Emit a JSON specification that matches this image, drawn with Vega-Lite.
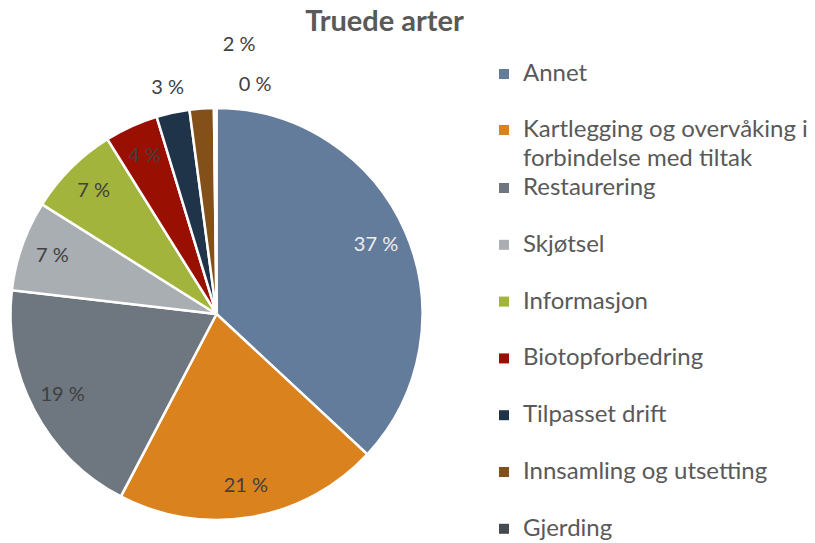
{
  "$schema": "https://vega.github.io/schema/vega-lite/v6.json",
  "autosize": "none",
  "padding": {"top": 85, "left": 0, "right": 382, "bottom": 0},
  "width": 433,
  "height": 458,
  "background": "white",
  "title": {"text": "Truede arter", "fontSize": 29, "font": "Lato", "fontWeight": "bold", "color": "#595959", "anchor": "middle", "frame": "group", "dx": 168, "offset": -3},
  "data": {"values": [
    {"cat": "Annet", "value": 37.0, "label": "37 %", "rank": 1},
    {"cat": "Kartlegging og overvåking i forbindelse med tiltak", "value": 20.8, "label": "21 %", "rank": 2},
    {"cat": "Restaurering", "value": 19.2, "label": "19 %", "rank": 3},
    {"cat": "Skjøtsel", "value": 7.1, "label": "7 %", "rank": 4},
    {"cat": "Informasjon", "value": 7.2, "label": "7 %", "rank": 5},
    {"cat": "Biotopforbedring", "value": 4.2, "label": "4 %", "rank": 6},
    {"cat": "Tilpasset drift", "value": 2.6, "label": "3 %", "rank": 7},
    {"cat": "Innsamling og utsetting", "value": 1.9, "label": "2 %", "rank": 8},
    {"cat": "Gjerding", "value": 0.2, "label": "0 %", "rank": 9}
  ]},
  "encoding": {
    "theta": {"field": "value", "type": "quantitative", "stack": true},
    "order": {"field": "rank", "type": "quantitative"}
  },
  "layer": [
    {
      "mark": {"type": "arc", "outerRadius": 206, "stroke": "white", "strokeWidth": 2.5},
      "encoding": {
        "fill": {
          "field": "cat", "type": "nominal",
          "scale": {
            "domain": ["Annet", "Kartlegging og overvåking i forbindelse med tiltak", "Restaurering", "Skjøtsel", "Informasjon", "Biotopforbedring", "Tilpasset drift", "Innsamling og utsetting", "Gjerding"],
            "range": ["#647c9c", "#D9821E", "#6E767F", "#A9AEB3", "#A2B43B", "#990F02", "#203449", "#84501A", "#464B50"]
          },
          "legend": {
            "values": ["Annet", "Kartlegging og overvåking i forbindelse med tiltak"],
            "orient": "none", "legendX": 492, "legendY": -23, "title": null,
            "symbolType": "square", "symbolSize": 100, "symbolStrokeWidth": 0,
            "labelFont": "Lato", "labelFontSize": 24, "labelColor": "#595959",
            "labelOffset": 7, "labelLimit": 400, "rowPadding": 32,
            "labelExpr": "datum.label == 'Kartlegging og overvåking i forbindelse med tiltak' ? ['Kartlegging og overvåking i', 'forbindelse med tiltak'] : datum.label"
          }
        }
      }
    },
    {
      "mark": {"type": "arc", "outerRadius": 206, "stroke": "white", "strokeWidth": 2.5},
      "encoding": {
        "color": {
          "field": "cat", "type": "nominal",
          "scale": {
            "domain": ["Annet", "Kartlegging og overvåking i forbindelse med tiltak", "Restaurering", "Skjøtsel", "Informasjon", "Biotopforbedring", "Tilpasset drift", "Innsamling og utsetting", "Gjerding"],
            "range": ["#647c9c", "#D9821E", "#6E767F", "#A9AEB3", "#A2B43B", "#990F02", "#203449", "#84501A", "#464B50"]
          },
          "legend": {
            "values": ["Restaurering", "Skjøtsel", "Informasjon", "Biotopforbedring", "Tilpasset drift", "Innsamling og utsetting", "Gjerding"],
            "orient": "none", "legendX": 492, "legendY": 91, "title": null,
            "symbolType": "square", "symbolSize": 100, "symbolStrokeWidth": 0,
            "labelFont": "Lato", "labelFontSize": 24, "labelColor": "#595959",
            "labelOffset": 7, "labelLimit": 400, "rowPadding": 32.8
          }
        }
      }
    },
    {
      "mark": {"type": "text", "radius": 174, "font": "Lato", "fontSize": 20},
      "encoding": {
        "text": {"condition": {"test": "datum.rank <= 6", "field": "label"}, "value": ""},
        "color": {"condition": {"test": "datum.rank == 1", "value": "#eeeeee"}, "value": "#404040"}
      }
    },
    {
      "mark": {"type": "text", "radius": 231, "font": "Lato", "fontSize": 20, "color": "#404040"},
      "encoding": {
        "text": {"condition": {"test": "datum.rank == 7", "field": "label"}, "value": ""}
      }
    },
    {
      "mark": {"type": "text", "radius": 270, "dx": 42, "font": "Lato", "fontSize": 20, "color": "#404040"},
      "encoding": {
        "text": {"condition": {"test": "datum.rank == 8", "field": "label"}, "value": ""}
      }
    },
    {
      "mark": {"type": "text", "radius": 229, "dx": 40, "font": "Lato", "fontSize": 20, "color": "#404040"},
      "encoding": {
        "text": {"condition": {"test": "datum.rank == 9", "field": "label"}, "value": ""}
      }
    }
  ],
  "resolve": {"scale": {"color": "independent", "fill": "independent"}},
  "config": {"view": {"stroke": null}, "style": {"guide-label": {"lineHeight": 29}}}
}
